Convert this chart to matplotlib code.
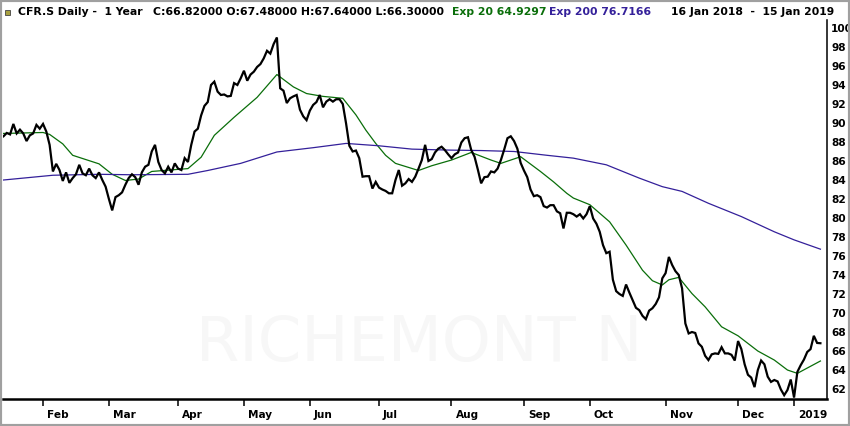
import pandas as pd
import matplotlib
matplotlib.use('Agg')
import matplotlib.pyplot as plt
import matplotlib.transforms as mtransforms
from matplotlib.patches import Rectangle

# SIX trading calendar, 16 Jan 2018 - 15 Jan 2019
holidays = ['2018-03-30', '2018-04-02', '2018-05-01', '2018-05-10', '2018-05-21',
            '2018-08-01', '2018-12-24', '2018-12-25', '2018-12-26', '2018-12-31',
            '2019-01-01', '2019-01-02']
days = pd.bdate_range('2018-01-16', '2019-01-15')
days = days[~days.isin(pd.to_datetime(holidays))]

# daily close
close = [
    88.6, 88.95, 88.8, 89.9, 88.9, 89.3, 88.9, 88.1, 88.7, 88.9,
    89.8, 89.4, 89.9, 89.1, 87.7, 84.9, 85.7, 85.05, 83.9, 84.8,
    83.7, 84.2, 84.6, 85.6, 84.7, 84.5, 85.2, 84.5, 84.2, 84.8,
    84.0, 83.3, 82.0, 80.8, 82.2, 82.4, 82.7, 83.5, 84.2, 84.6,
    84.3, 83.5, 84.8, 85.4, 85.6, 87.0, 87.7, 85.9, 85.05, 84.7,
    85.4, 84.8, 85.75, 85.2, 85.05, 86.3, 85.9, 87.7, 89.1, 89.4,
    90.8, 91.8, 92.2, 94.0, 94.35, 93.3, 92.95, 93.0, 92.8, 92.85,
    94.2, 94.0, 94.7, 95.5, 94.45, 95.1, 95.4, 95.9, 96.2, 96.8,
    97.6, 97.3, 98.3, 99.0, 93.65, 93.4, 92.1, 92.6, 92.8, 92.95,
    91.4, 90.7, 90.3, 91.3, 91.9, 92.2, 92.95, 91.65, 92.25, 92.5,
    92.25, 92.5, 92.5, 92.0, 89.95, 87.6, 87.0, 87.1, 86.3, 84.35,
    84.4, 84.4, 83.1, 83.8, 83.2, 83.0, 82.85, 82.6, 82.6, 84.0,
    85.05, 83.4, 83.65, 84.1, 83.8, 84.35, 85.2, 86.1, 87.7, 86.0,
    86.2, 86.9, 87.3, 87.5, 87.15, 86.7, 86.3, 86.7, 86.9, 87.95,
    88.4, 88.5, 87.15, 86.45, 85.1, 83.65, 84.3, 84.35, 84.9, 84.8,
    85.2, 86.1, 87.2, 88.4, 88.6, 88.1, 87.3, 85.8, 85.0, 84.3,
    83.0, 82.3, 82.4, 82.2, 81.25, 81.1, 81.35, 81.35, 80.7, 80.5,
    78.9, 80.55, 80.55, 80.4, 80.15, 80.4, 79.95, 80.4, 81.25, 79.95,
    79.4, 78.55, 77.15, 76.3, 76.45, 73.5, 72.3, 72.0, 71.8, 73.0,
    72.15, 71.35, 70.55, 70.3, 69.7, 69.35, 70.25, 70.5, 70.95, 71.65,
    73.65, 74.2, 75.9, 75.05, 74.4, 74.0, 72.6, 68.9, 67.85, 68.0,
    67.9, 66.8, 66.45, 65.5, 65.05, 65.65, 65.75, 65.7, 66.4, 65.75,
    65.75, 65.6, 65.0, 67.05, 66.2, 64.6, 63.5, 63.2, 62.2, 64.0,
    65.0, 64.6, 63.3, 62.75, 62.95, 62.8, 61.95, 61.35, 61.9, 63.0,
    61.1, 63.8, 64.5, 65.1, 65.9, 66.2, 67.6, 66.85, 66.82,
]

# exponential averages, sampled at trading-day numbers
ema20_at = [0, 12, 14, 18, 21, 29, 33, 37, 41, 45, 56, 60, 64, 70, 72, 77, 83,
            88, 92, 97, 103, 107, 110, 113, 116, 119, 126, 130, 136, 142, 148,
            151, 157, 163, 167, 171, 173, 178, 184, 189, 194, 197, 200, 202,
            205, 209, 213, 218, 223, 229, 234, 238, 241, 248]
ema20 = [88.9, 89.0, 88.8, 87.8, 86.6, 85.7, 84.6, 83.95, 84.1, 84.9, 85.2,
         86.4, 88.7, 90.6, 91.2, 92.7, 95.1, 93.8, 93.1, 92.8, 92.6, 90.85,
         89.25, 87.85, 86.6, 85.75, 85.0, 85.5, 86.1, 86.9, 86.1, 85.75,
         86.45, 84.9, 83.8, 82.6, 82.1, 81.4, 79.6, 77.15, 74.5, 73.4, 72.95,
         73.5, 73.75, 72.05, 70.65, 68.55, 67.6, 66.0, 65.05, 64.0, 63.65, 64.95]

ema200_at = [0, 15, 29, 39, 56, 62, 72, 83, 94, 104, 114, 124, 135, 145, 155,
             165, 173, 183, 193, 200, 206, 214, 224, 234, 240, 248]
ema200 = [84.0, 84.5, 84.6, 84.55, 84.6, 85.0, 85.75, 86.95, 87.4, 87.85, 87.6,
          87.25, 87.15, 87.1, 87.0, 86.6, 86.3, 85.6, 84.2, 83.3, 82.8, 81.55,
          80.15, 78.55, 77.7, 76.72]

month_labels = ['Feb', 'Mar', 'Apr', 'May', 'Jun', 'Jul', 'Aug', 'Sep', 'Oct',
                'Nov', 'Dec', '2019']
price_ticks = list(range(62, 101, 2))

header_left = 'CFR.S Daily -  1 Year'
header_ohlc = 'C:66.82000 O:67.48000 H:67.64000 L:66.30000'
header_ema20 = 'Exp 20 64.9297'
header_ema200 = 'Exp 200 76.7166'
header_range = '16 Jan 2018  -  15 Jan 2019'

GREEN = '#0a6e0a'
PURPLE = '#34209a'

W, H = 850, 426
fig = plt.figure(figsize=(W / 100, H / 100), dpi=100)
ax = fig.add_axes([3 / W, 27 / H, 824 / W, 379 / H])

pos = list(range(len(days)))
ax.plot(pos, close, color='black', lw=1.6, zorder=3, solid_joinstyle='miter')
ax.plot(ema20_at, ema20, color=GREEN, lw=0.9, zorder=2)
ax.plot(ema200_at, ema200, color=PURPLE, lw=0.9, zorder=2)

# faint watermark
ax.text(0.505, 0.145, 'RICHEMONT N', transform=ax.transAxes, ha='center',
        va='center', fontsize=45, color='#f7f7f7', zorder=0)

ax.set_xlim(-0.15, 250)
ax.set_ylim(60.95, 100.84)

# month ticks at first trading day of each month
first_day = pd.Series(pos, index=days).groupby(days.to_period('M')).first()
ax.set_xticks(first_day.values[1:])
ax.set_xticklabels(month_labels)
ax.yaxis.tick_right()
ax.set_yticks(price_ticks)
ax.set_yticklabels([str(t) for t in price_ticks])

ax.tick_params(axis='x', direction='out', length=5, width=1.1, pad=3,
               labelsize=7.6, colors='black')
ax.tick_params(axis='y', length=0, pad=3, labelsize=7.6, colors='black')
for lbl in ax.get_xticklabels() + ax.get_yticklabels():
    lbl.set_fontweight('bold')
shift = mtransforms.ScaledTranslation(4 / 100, 0, fig.dpi_scale_trans)
for lbl in ax.get_xticklabels():
    lbl.set_horizontalalignment('left')
    lbl.set_transform(lbl.get_transform() + shift)

for side in ['top', 'left']:
    ax.spines[side].set_visible(False)
ax.spines['bottom'].set_linewidth(1.8)
ax.spines['right'].set_linewidth(1.1)

# header line
ty = 1 - 12 / H
hdr = dict(fontsize=7.8, va='center', fontweight='bold')
fig.text(18 / W, ty, header_left, **hdr)
fig.text(153 / W, ty, header_ohlc, **hdr)
fig.text(452 / W, ty, header_ema20, color=GREEN, **hdr)
fig.text(549 / W, ty, header_ema200, color=PURPLE, **hdr)
fig.text(671 / W, ty, header_range, **hdr)
fig.patches.append(Rectangle((5 / W, 1 - 15 / H), 5 / W, 5 / H,
                             transform=fig.transFigure, facecolor='#a8a040',
                             edgecolor='#444444', lw=0.6))

# window frame
fig.patches.append(Rectangle((0, 0), 1, 1, transform=fig.transFigure,
                             fill=False, edgecolor='#a0a0a0', lw=3))

fig.savefig('out.png', dpi=100)
